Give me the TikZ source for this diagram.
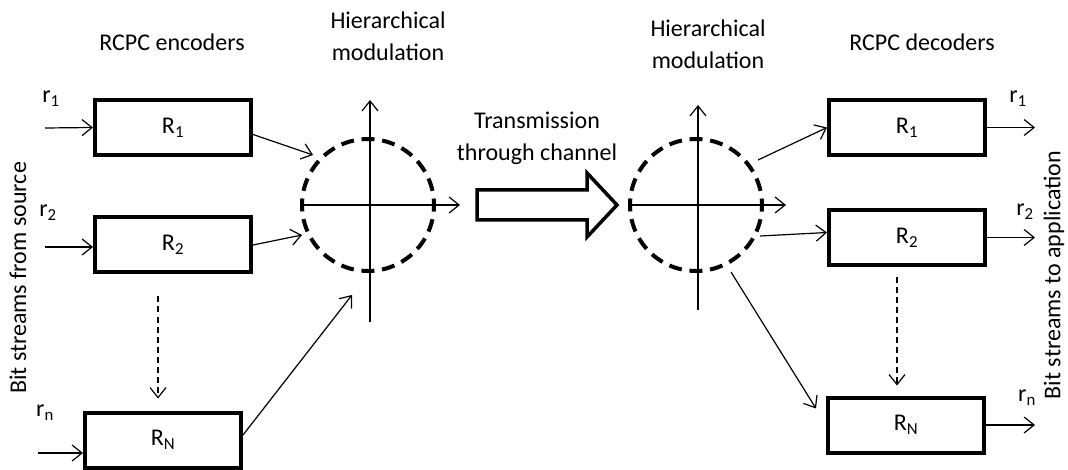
\documentclass[tikz,border=0pt]{standalone}
\usepackage{fontspec}
\setmainfont{Carlito}
\usetikzlibrary{positioning}
\usetikzlibrary{arrows.meta}

\begin{document}
\begin{tikzpicture}[x=1pt,y=-1pt,
  every node/.style = {font=\fontsize{24}{32}\selectfont, align=center, inner sep=0pt},
  coder/.style = {shape=rectangle, draw, line width=4pt,
    minimum width=156pt, minimum height=55pt},
  modcircle/.style = {shape=circle, draw, line width=4pt, minimum size=132pt,
    dash pattern=on 13pt off 7.73pt, dash phase=6.5pt},
  axis/.style = {draw, line width=1.2pt, -{Straight Barb[length=10pt,width=16pt]}},
  link/.style = {draw, line width=1.2pt, -{Straight Barb[length=10pt,width=16pt]}},
  dashlink/.style = {link, dash pattern=on 6pt off 4pt}
  ]
  \fill[white] (0,0) rectangle (1068,470);
  \useasboundingbox (0,0) rectangle (1068,470);

  % titles
  \node (encTitle) at (172,42) {RCPC encoders};
  \node (modTitleL) at (388,36) {Hierarchical\\modulation};
  \node (chanTitle) at (537,138) {Transmission\\through channel};
  \node (modTitleR) at (708,44) {Hierarchical\\modulation};
  \node (decTitle) at (922,42) {RCPC decoders};
  \node[rotate=90] (srcLabel) at (18,278) {Bit streams from source};
  \node[rotate=90] (appLabel) at (1054,275) {Bit streams to application};

  % encoders
  \node[coder] (encA) at (173,127.5) {R\textsubscript{1}};
  \node[coder] (encB) at (173,245) {R\textsubscript{2}};
  \node[coder] (encN) at (163,440) {R\textsubscript{N}};
  \coordinate (inA) at (45,128);
  \coordinate (inB) at (45,247);
  \coordinate (inN) at (38,453);
  \node (rinA) at (51,99) {r\textsubscript{1}};
  \node (rinB) at (48,213) {r\textsubscript{2}};
  \node (rinN) at (45,413) {r\textsubscript{n}};
  \draw[link] (inA) -- (encA.west);
  \draw[link] (inB) -- (inB -| encB.west);
  \draw[link] (inN) -- (inN -| encN.west);
  \draw[dashlink, shorten <=22pt, shorten >=12pt] ([xshift=-15pt]encB.south)
    -- ([xshift=-15pt]encB.south |- encN.north);

  % modulators
  \node[modcircle] (modL) at (368,205) {};
  \node[modcircle] (modR) at (696,205) {};
  \draw[axis] (modL.west) -- ++(160,0);
  \draw[axis] ([shift={(2,117)}]modL.center) -- ++(0,-222);
  \draw[axis] (modR.west) -- ++(158,0);
  \draw[axis] ([shift={(2,105)}]modR.center) -- ++(0,-205);
  \draw[link] ([yshift=-7pt]encA.east) -- ([shift={(-55,-50)}]modL.center);
  \draw[link] (encB.east) -- ([shift={(-66,30)}]modL.center);
  \draw[link] ([yshift=5pt]encN.east) -- ([shift={(-16,90)}]modL.center);

  % channel
  \draw[line width=3.5pt, line join=miter] (477,190) -- (587,190) -- (587,173)
    -- (617,205) -- (587,237) -- (587,220) -- (477,220) -- cycle;

  % decoders
  \node[coder] (decA) at (907,127.5) {R\textsubscript{1}};
  \node[coder] (decB) at (907,237.5) {R\textsubscript{2}};
  \node[coder] (decN) at (906,425) {R\textsubscript{N}};
  \draw[link] ([shift={(62,-45)}]modR.center) -- (decA.west);
  \draw[link] ([shift={(64,31)}]modR.center) -- ([yshift=5pt]decB.west);
  \draw[link] ([shift={(35,67)}]modR.center) -- ([shift={(-10,13)}]decN.north west);
  \draw[dashlink, shorten <=10pt, shorten >=10pt] ([xshift=-10pt]decB.south)
    -- ([xshift=-10pt]decB.south |- decN.north);
  \coordinate (outA) at (1035,127.5);
  \coordinate (outB) at (1035,237.5);
  \coordinate (outN) at (1035,425);
  \node (routA) at (1018,99) {r\textsubscript{1}};
  \node (routB) at (1025,212) {r\textsubscript{2}};
  \node (routN) at (1027,398) {r\textsubscript{n}};
  \draw[link] (decA.east) -- (outA);
  \draw[link] (decB.east) -- (outB);
  \draw[link] (decN.east) -- (outN);
\end{tikzpicture}
\end{document}
